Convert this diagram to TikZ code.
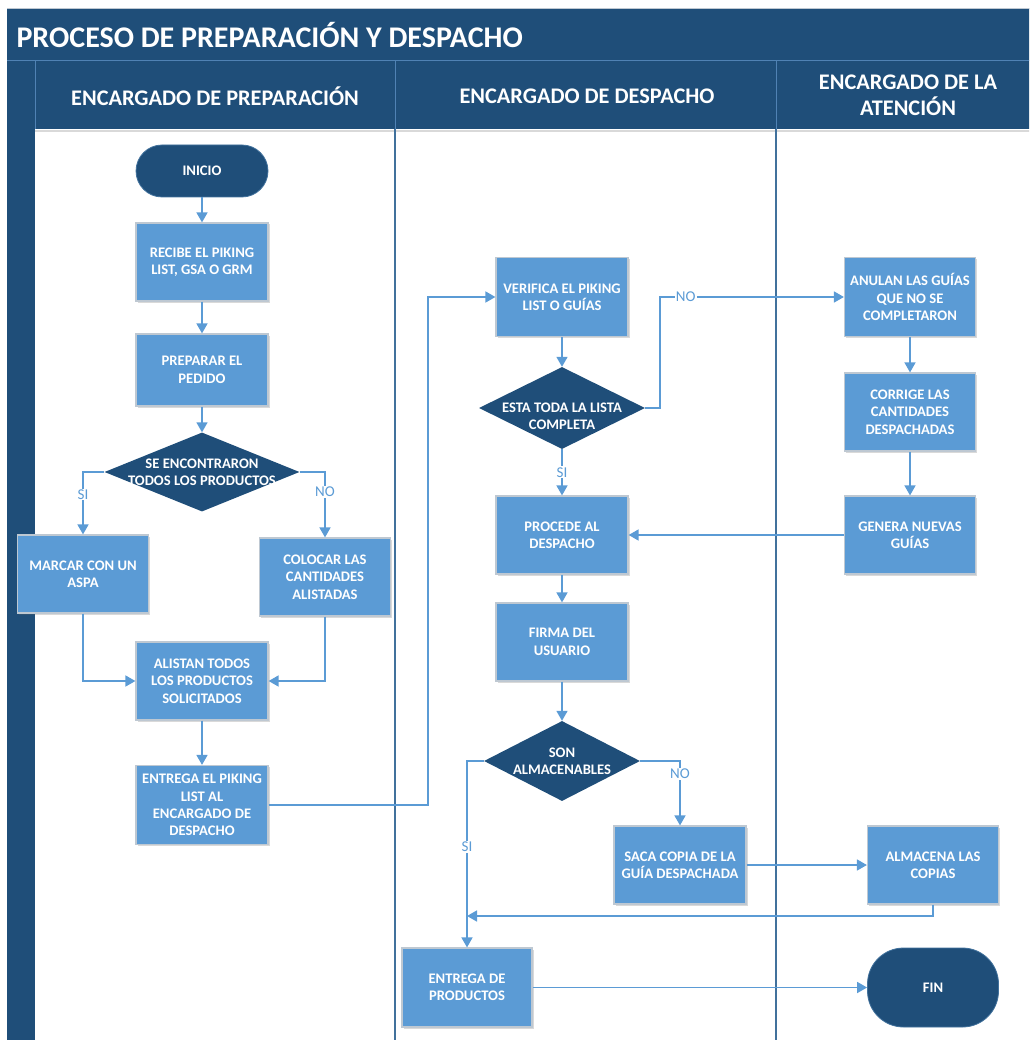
\documentclass[tikz,border=0pt]{standalone}
\usepackage{fontspec}
\setmainfont{Carlito}
\usetikzlibrary{arrows.meta,shapes.geometric,shadows}
\definecolor{darkblue}{RGB}{31,78,121}
\definecolor{boxblue}{RGB}{91,155,213}
\definecolor{boxedge}{RGB}{190,200,210}
\definecolor{lanecol}{RGB}{65,113,156}
\definecolor{headline}{RGB}{80,130,180}
\tikzset{
  proc/.style={rectangle, fill=boxblue, draw=boxedge, line width=1.2pt,
    minimum width=132pt, minimum height=78pt, inner sep=1pt,
    text=white, align=center, font=\bfseries\fontsize{14.6}{17.4}\selectfont,
    drop shadow={shadow xshift=1.5pt, shadow yshift=-1.5pt, opacity=0.25, fill=black!60}},
  term/.style={rectangle, fill=darkblue, draw=lanecol, line width=0.8pt, rounded corners=26pt,
    minimum width=132pt, minimum height=52pt, inner sep=2pt,
    text=white, align=center, font=\bfseries\fontsize{14.6}{17.4}\selectfont},
  dec/.style 2 args={diamond, fill=darkblue, inner sep=0pt, draw=none,
    label={[text=white, align=center, yshift=#2, font=\bfseries\fontsize{14.6}{17.4}\selectfont]center:#1}},
  flow/.style={draw=boxblue, line width=1.6pt, -{Triangle[length=10pt,width=11pt]}},
  lbl/.style={fill=white, text=boxblue, inner sep=1pt, font=\fontsize{15}{16}\selectfont},
  headtxt/.style={text=white, align=center, font=\bfseries\fontsize{22.3}{26}\selectfont}
}
\begin{document}
\begin{tikzpicture}[x=1pt,y=-1pt]
\useasboundingbox (0,0) rectangle (1029,1040);
\begin{scope}
\clip (0,0) rectangle (1029,1040);
% title bar and headers
\fill[darkblue] (7,8) rectangle (1045,61);
\draw[boxedge, line width=0.8pt] (7,8) -- (1045,8);
\fill[darkblue] (7,61) rectangle (35,1045);
\fill[darkblue] (35,61) rectangle (1045,129);
\draw[headline, line width=1pt] (7,61) -- (1045,61);
\draw[headline, line width=1pt] (35,61) -- (35,129);
\draw[headline, line width=1pt] (395,61) -- (395,129);
\draw[headline, line width=1pt] (776,61) -- (776,129);
\draw[black!15, line width=2pt] (35,131) -- (1045,131);
\draw[lanecol, line width=1.4pt] (395,129) -- (395,1045);
\draw[lanecol, line width=1.4pt] (776,129) -- (776,1045);
\end{scope}
\node[anchor=west, text=white, font=\bfseries\fontsize{30}{34}\selectfont] (title) at (13,35) {PROCESO DE PREPARACIÓN Y DESPACHO};
\node[headtxt] (h1) at (215,96) {ENCARGADO DE PREPARACIÓN};
\node[headtxt] (h2) at (587,96) {ENCARGADO DE DESPACHO};
\node[headtxt] (h3) at (908,95) {ENCARGADO DE LA\\ATENCIÓN};

% lane 1
\node[term] (inicio) at (202,171) {INICIO};
\node[proc] (recibe) at (202,262) {RECIBE EL PIKING\\LIST, GSA O GRM};
\node[proc, minimum height=72pt] (preparar) at (202,370) {PREPARAR EL\\PEDIDO};
\node[dec={SE ENCONTRARON\\TODOS LOS PRODUCTOS}{0pt}, minimum width=195pt, minimum height=79pt] (d1) at (202,472) {};
\node[proc, minimum width=131pt] (marcar) at (83,574) {MARCAR CON UN\\ASPA};
\node[proc, minimum width=131pt] (colocar) at (325,577) {COLOCAR LAS\\CANTIDADES\\ALISTADAS};
\node[proc] (alistan) at (202,681) {ALISTAN TODOS\\LOS PRODUCTOS\\SOLICITADOS};
\node[proc, minimum height=79pt] (entrega1) at (202,805) {ENTREGA EL PIKING\\LIST AL\\ENCARGADO DE\\DESPACHO};

% lane 2
\node[proc, minimum height=79pt] (verifica) at (562,297) {VERIFICA EL PIKING\\LIST O GUÍAS};
\node[dec={ESTA TODA LA LISTA\\COMPLETA}{-8pt}, minimum width=166pt, minimum height=82pt] (d2) at (562,408) {};
\node[proc] (procede) at (562,535) {PROCEDE AL\\DESPACHO};
\node[proc] (firma) at (562,642) {FIRMA DEL\\USUARIO};
\node[dec={SON\\ALMACENABLES}{0pt}, minimum width=156pt, minimum height=80pt] (d3) at (562,761) {};
\node[proc] (saca) at (680,865) {SACA COPIA DE LA\\GUÍA DESPACHADA};
\node[proc, minimum width=130pt, minimum height=79pt] (entrega2) at (467,987.5) {ENTREGA DE\\PRODUCTOS};

% lane 3
\node[proc, minimum width=131pt, minimum height=79pt] (anulan) at (910,297) {ANULAN LAS GUÍAS\\QUE NO SE\\COMPLETARON};
\node[proc, minimum width=131pt] (corrige) at (910,412) {CORRIGE LAS\\CANTIDADES\\DESPACHADAS};
\node[proc, minimum width=131pt] (genera) at (910,535) {GENERA NUEVAS\\GUÍAS};
\node[proc, minimum width=131pt] (almacena) at (933,865) {ALMACENA LAS\\COPIAS};
\node[term, rounded corners=36pt, minimum width=131pt, minimum height=79pt] (fin) at (933,987.5) {FIN};

% connectors
\coordinate (c1) at (428,805);
\coordinate (c2) at (660,408);
\coordinate (c3) at (933,916);
\coordinate (c4) at (467,916);

\draw[flow] (inicio) -- (recibe);
\draw[flow] (recibe) -- (preparar);
\draw[flow] (preparar) -- (d1.north);
\draw[flow] (d1.west) -| node[lbl, pos=0.68] (lsi1) {SI} (marcar.north);
\draw[flow] (d1.east) -| node[lbl, pos=0.65] (lno1) {NO} (colocar.north);
\draw[flow] (marcar.south) |- (alistan.west);
\draw[flow] (colocar.south) |- (alistan.east);
\draw[flow] (alistan) -- (entrega1);
\draw[flow] (entrega1.east) -- (c1) |- (verifica.west);
\draw[flow] (verifica) -- (d2.north);
\draw[flow] (d2.east) -- (c2) |- node[lbl, pos=0.57] (lno2) {NO} (anulan.west);
\draw[flow] (d2.south) -- node[lbl, pos=0.5] (lsi2) {SI} (procede.north);
\draw[flow] (anulan) -- (corrige);
\draw[flow] (corrige) -- (genera);
\draw[flow] (genera.west) -- (procede.east);
\draw[flow] (procede) -- (firma);
\draw[flow] (firma) -- (d3.north);
\draw[flow] (d3.east) -| node[lbl, pos=0.6] (lno3) {NO} (saca.north);
\draw[flow] (d3.west) -| node[lbl, pos=0.73] (lsi3) {SI} (entrega2.north);
\draw[flow] (saca.east) -- (almacena.west);
\draw[flow] (almacena.south) -- (c3) -- (c4);
\draw[flow] (entrega2.east) -- (fin.west);
\end{tikzpicture}
\end{document}
